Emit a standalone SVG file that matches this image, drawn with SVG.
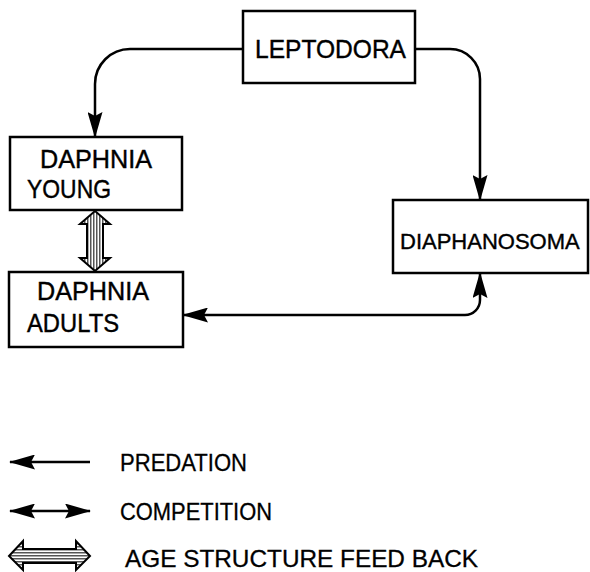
<svg xmlns="http://www.w3.org/2000/svg" width="590" height="572" viewBox="0 0 590 572">
<defs>
<style>
.box{fill:#fff;stroke:#000;stroke-width:2.5}
.lbl{font-family:"Liberation Sans",Arial,sans-serif;font-size:25px;fill:#000;stroke:#000;stroke-width:0.4}
.leg{font-family:"Liberation Sans",Arial,sans-serif;font-size:24px;fill:#000;stroke:#000;stroke-width:0.3}
.con{fill:none;stroke:#000;stroke-width:2.5}
.hatch{fill:url(#vstripes);stroke:#000;stroke-width:2}
.hatchH{fill:url(#hstripes);stroke:#000;stroke-width:2}
</style>
<marker id="ah" viewBox="0 0 26 15" refX="25" refY="7.5" markerWidth="26" markerHeight="15" markerUnits="userSpaceOnUse" orient="auto-start-reverse">
<path d="M0,0 L26,7.5 L0,15 L4,7.5 Z" fill="#000"/>
</marker>
<pattern id="vstripes" width="3" height="4" patternUnits="userSpaceOnUse">
<rect width="3" height="4" fill="#fff"/>
<rect width="1.5" height="4" fill="#555"/>
</pattern>
<pattern id="hstripes" width="4" height="3" patternUnits="userSpaceOnUse">
<rect width="4" height="3" fill="#fff"/>
<rect width="4" height="1.5" fill="#555"/>
</pattern>
</defs>
<g id="connectors">
<path class="con" d="M243,49 H130 A35,35 0 0 0 95,84 V137" marker-end="url(#ah)"/>
<path class="con" d="M415,49 H450 A30,30 0 0 1 480,79 V200" marker-end="url(#ah)"/>
<path class="con" d="M183,315 H465 A15,15 0 0 0 480,300 V273" marker-start="url(#ah)" marker-end="url(#ah)"/>
<polygon class="hatch" points="95,211 110,224 103,224 103,258 110,258 95,271 80,258 87,258 87,224 80,224"/>
</g>
<g id="leptodora">
<rect class="box" x="243" y="11" width="172" height="72"/>
<text class="lbl" x="255" y="58" textLength="151" lengthAdjust="spacingAndGlyphs">LEPTODORA</text>
</g>
<g id="daphnia-young">
<rect class="box" x="10" y="137" width="172" height="73"/>
<text class="lbl" x="40" y="168" textLength="112" lengthAdjust="spacingAndGlyphs">DAPHNIA</text>
<text class="lbl" x="27" y="198" textLength="84" lengthAdjust="spacingAndGlyphs">YOUNG</text>
</g>
<g id="daphnia-adults">
<rect class="box" x="9" y="272" width="174" height="75"/>
<text class="lbl" x="37" y="300" textLength="112" lengthAdjust="spacingAndGlyphs">DAPHNIA</text>
<text class="lbl" x="27" y="332" textLength="92" lengthAdjust="spacingAndGlyphs">ADULTS</text>
</g>
<g id="diaphanosoma">
<rect class="box" x="393" y="200" width="195" height="73"/>
<text class="lbl" x="400" y="249" style="font-size:22px">DIAPHANOSOMA</text>
</g>
<g id="legend">
<line class="con" x1="10" y1="462" x2="90" y2="462" marker-start="url(#ah)"/>
<text class="leg" x="120" y="471" textLength="127" lengthAdjust="spacingAndGlyphs">PREDATION</text>
<line class="con" x1="10" y1="511" x2="90" y2="511" marker-start="url(#ah)" marker-end="url(#ah)"/>
<text class="leg" x="120" y="520" textLength="152" lengthAdjust="spacingAndGlyphs">COMPETITION</text>
<polygon class="hatchH" points="9,556 23,541 23,549 76,549 76,541 90,556 76,570 76,563 23,563 23,570"/>
<text class="leg" x="125" y="567" textLength="353" lengthAdjust="spacingAndGlyphs">AGE STRUCTURE FEED BACK</text>
</g>
</svg>
